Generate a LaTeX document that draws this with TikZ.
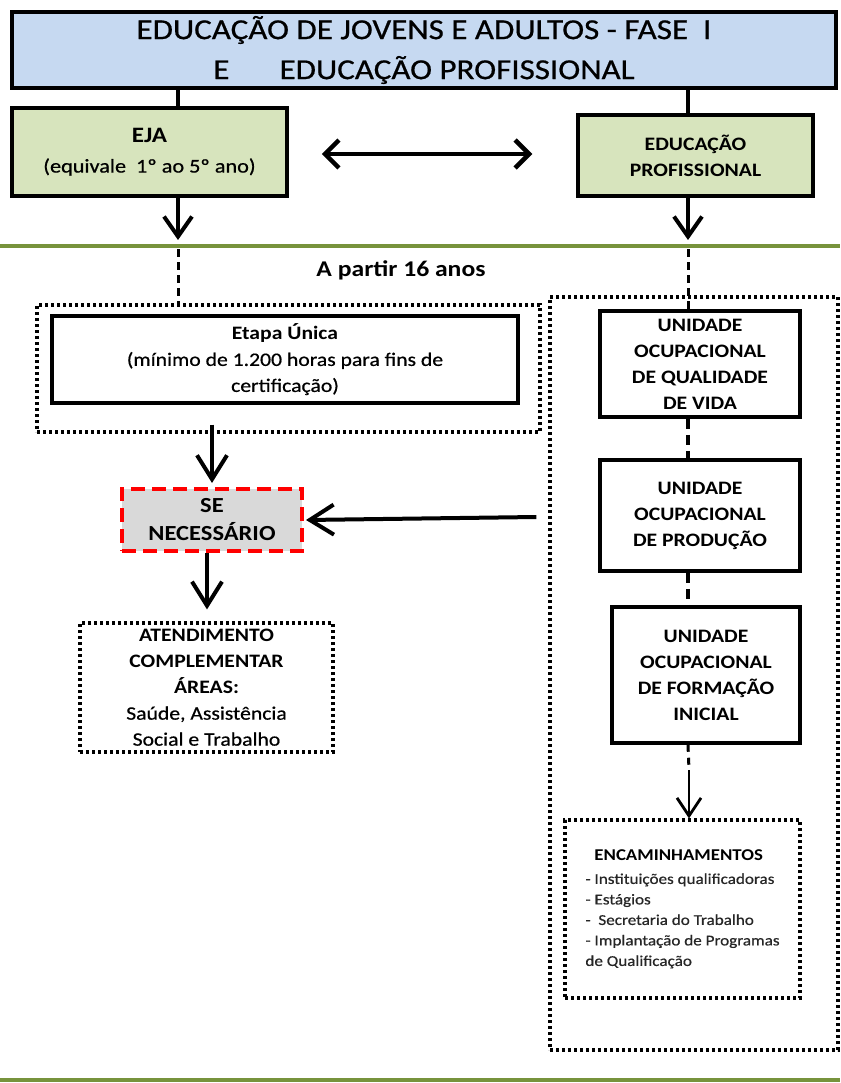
\documentclass[tikz,border=0pt]{standalone}
\usepackage{fontspec}
\setmainfont[FakeStretch=1.14, UprightFeatures={FakeBold=0.6}]{Carlito}
\usetikzlibrary{arrows.meta}
\definecolor{tblue}{HTML}{C6D9F1}
\definecolor{tgreen}{HTML}{D7E4BD}
\definecolor{tgray}{HTML}{D9D9D9}
\definecolor{tred}{HTML}{FF0000}
\definecolor{lgreen}{HTML}{77933C}
\tikzset{
  solidbox/.style={draw=black, line width=3.5pt, inner sep=0pt, align=center, rectangle},
  dotbox/.style={draw=black, line width=3.2pt, dash pattern=on 3pt off 3pt, inner sep=0pt, align=center, rectangle},
  redbox/.style={draw=tred, fill=tgray, line width=4pt, dash pattern=on 14pt off 7pt, inner sep=0pt, align=center, rectangle},
  conn/.style={line width=3.5pt},
  dashconn/.style={line width=3pt, dash pattern=on 8pt off 5pt},
  bigarrow/.style={line width=4pt, -{Straight Barb[length=20pt,width=28pt]}},
  thinarrow/.style={line width=2.8pt, -{Straight Barb[length=18pt,width=24pt]}},
  dblarrow/.style={line width=4.5pt, {Straight Barb[length=14pt,width=28pt]}-{Straight Barb[length=14pt,width=28pt]}},
  sepline/.style={draw=lgreen, line width=3.5pt},
}
\begin{document}
\begin{tikzpicture}[x=1pt,y=-1pt]
\useasboundingbox (0,0) rectangle (840,1083);
\fill[white] (0,0) rectangle (840,1083);

% green separator lines
\coordinate (gl1) at (0,246);
\coordinate (gr1) at (840,246);
\coordinate (gl2) at (0,1080);
\coordinate (gr2) at (840,1080);
\draw[sepline] (gl1) -- (gr1);
\draw[sepline] (gl2) -- (gr2);

% connector columns
\coordinate (cL) at (178,0);
\coordinate (cR) at (688,0);

% title
\node[solidbox, fill=tblue, minimum width=824pt, minimum height=76pt,
      font=\fontsize{29}{40}\selectfont] (title) at (424,50)
  {EDUCAÇÃO DE JOVENS E ADULTOS - FASE~~I\\E\hspace{50pt}EDUCAÇÃO PROFISSIONAL};

% EJA
\node[solidbox, fill=tgreen, minimum width=275pt, minimum height=88pt,
      font=\fontsize{19.5}{30}\selectfont] (eja) at (149.5,152)
  {{\bfseries\fontsize{22}{30}\selectfont EJA}\\(equivale~~1º ao 5º ano)};

% Educacao profissional
\node[solidbox, fill=tgreen, minimum width=235pt, minimum height=81pt,
      font=\bfseries\fontsize{19}{26}\selectfont] (edu) at (695.5,155.5)
  {EDUCAÇÃO\\PROFISSIONAL};

\draw[conn] (cL |- title.south) -- (cL |- eja.north);
\draw[conn] (cR |- title.south) -- (cR |- edu.north);
\draw[dblarrow] ([xshift=33pt,yshift=-2pt]eja.east) -- ([xshift=-44pt,yshift=-2pt]eja.east -| edu.west);

% A partir 16 anos
\node[font=\bfseries\fontsize{22.5}{26}\selectfont, inner sep=0pt] (age) at (401,270) {A partir 16 anos};

% left dotted box and Etapa Unica
\node[dotbox, minimum width=503pt, minimum height=127pt] (leftdot) at (288.5,368.5) {};
\node[solidbox, fill=white, minimum width=466pt, minimum height=87pt,
      font=\fontsize{19}{26}\selectfont] (etapa) at (285,359.5)
  {{\bfseries Etapa Única}\\(mínimo de 1.200 horas para fins de\\certificação)};

% right dotted box
\node[dotbox, minimum width=288pt, minimum height=753pt] (rightdot) at (694,673.5) {};

% arrows from top boxes
\coordinate (tipL) at (178,240);
\coordinate (tipR) at (688,240);
\draw[bigarrow] (cL |- eja.south) -- (tipL);
\draw[bigarrow] (cR |- edu.south) -- (tipR);
\draw[dashconn] ([yshift=-3pt]cL |- gl1) -- (cL |- leftdot.north);

% units
\node[solidbox, fill=white, minimum width=200pt, minimum height=106pt,
      font=\bfseries\fontsize{19}{26}\selectfont] (u1) at (700,364)
  {UNIDADE\\OCUPACIONAL\\DE QUALIDADE\\DE VIDA};
\node[solidbox, fill=white, minimum width=200pt, minimum height=111pt,
      font=\bfseries\fontsize{19}{26}\selectfont] (u2) at (700,515.5)
  {UNIDADE\\OCUPACIONAL\\DE PRODUÇÃO};
\node[solidbox, fill=white, minimum width=188pt, minimum height=136pt,
      font=\bfseries\fontsize{19}{26}\selectfont] (u3) at (706,675)
  {UNIDADE\\OCUPACIONAL\\DE FORMAÇÃO\\INICIAL};

\draw[dashconn] ([yshift=-3pt]cR |- gr1) -- (cR |- u1.north);
\draw[dashconn, line width=3.5pt, dash pattern=on 10pt off 6pt] (cR |- u1.south) -- (cR |- u2.north);
\draw[dashconn, line width=3.5pt, dash pattern=on 10pt off 6pt] (cR |- u2.south) -- (cR |- u3.north);

% encaminhamentos
\node[dotbox, minimum width=235pt, minimum height=178pt, align=left,
      font=\fontsize{15}{20.5}\selectfont, text=black!85] (enc) at (682.5,909)
  {\hspace*{9pt}{\bfseries\fontsize{16.5}{20}\selectfont\color{black} ENCAMINHAMENTOS}\\[3pt]
   - Instituições qualificadoras\\
   - Estágios\\
   -~ Secretaria do Trabalho\\
   - Implantação de Programas\\
   de Qualificação};

\coordinate (midR) at (689,770);
\draw[dashconn, dash pattern=on 7pt off 6pt] (cR |- u3.south) -- (midR);
\draw[thinarrow] (midR) -- (midR |- enc.north);

% SE NECESSARIO
\node[redbox, minimum width=180pt, minimum height=62pt,
      font=\bfseries\fontsize{21.5}{28}\selectfont] (se) at (212,520)
  {SE\\NECESSÁRIO};

\draw[bigarrow, -{Straight Barb[length=24pt,width=30pt]}] ([yshift=9pt]se.north |- leftdot.south) -- ([yshift=4pt]se.north);
\draw[bigarrow, -{Straight Barb[length=24pt,width=30pt]}] ([xshift=-12pt,yshift=3pt]rightdot.west |- se.east) -- ([xshift=2pt]se.east);

% atendimento
\node[dotbox, minimum width=253pt, minimum height=129pt,
      font=\fontsize{19}{26}\selectfont] (atend) at (206.5,687.5)
  {{\bfseries ATENDIMENTO}\\{\bfseries COMPLEMENTAR}\\{\bfseries ÁREAS:}\\Saúde, Assistência\\Social e Trabalho};

\draw[bigarrow, -{Straight Barb[length=24pt,width=30pt]}] ([xshift=-5pt]se.south) -- ([xshift=-5pt,yshift=12pt]se.south |- atend.north);
\end{tikzpicture}
\end{document}
